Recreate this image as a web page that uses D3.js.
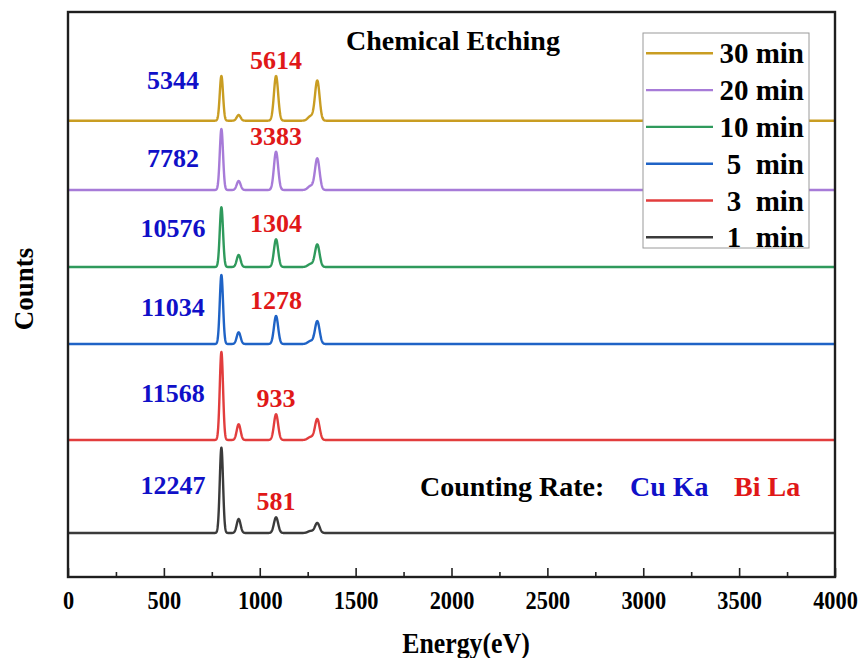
<!DOCTYPE html>
<html>
<head>
<meta charset="utf-8">
<script src="https://cdn.jsdelivr.net/npm/d3@7"></script>
<style>
  html, body { margin: 0; padding: 0; background: #fff; }
  svg { display: block; }
  svg text { font-family: "Liberation Serif", "Times New Roman", serif !important; font-weight: bold; }
</style>
</head>
<body>
<svg id="chart" width="861" height="658"></svg>
<script>
// ---- data ----
const seriesNames = ["1  min", "3  min", "5  min", "10 min", "20 min", "30 min"];
const seriesColors = ["#3b3b3b", "#e23d3d", "#1f63c6", "#2f9a5c", "#a77bd8", "#c99d22"];
// vertical offset of each spectrum (stacked plot, arbitrary counts)
const offsets = [440, 1370, 2330, 3100, 3870, 4563];
// peak centres (eV) and widths (eV)
const peakEnergies = [800, 890, 1085, 1265, 1300];
const peakWidths   = [8.5, 10, 11, 14, 12];
// peak amplitudes per series, same order as peakEnergies
const peakAmps = [
  [853, 140, 157, 20, 100],
  [880, 157, 257, 30, 210],
  [690, 117, 280, 30, 228],
  [597, 120, 277, 30, 225],
  [610,  90, 383, 40, 315],
  [447,  57, 447, 45, 400]
];
// counting rates
const cuKa = [12247, 11568, 11034, 10576, 7782, 5344];
const biLa = [581, 933, 1278, 1304, 3383, 5614];
const xTicks = [0, 500, 1000, 1500, 2000, 2500, 3000, 3500, 4000];
const xMinorTicks = [250, 750, 1250, 1750, 2250, 2750, 3250, 3750];

// ---- layout ----
const W = 861, H = 658;
const m = { left: 68, right: 26, top: 12, bottom: 81 };
const svg = d3.select("#chart");

const x = d3.scaleLinear().domain([0, 4000]).range([m.left, W - m.right]);
const y = d3.scaleLinear().domain([0, 5650]).range([H - m.bottom, m.top]);

// spectrum = baseline + sum of gaussian peaks
function spectrum(i) {
  const pts = [];
  for (let e = 0; e <= 4000; e += 1) {
    let v = offsets[i];
    peakEnergies.forEach((c, k) => {
      const s = peakWidths[k];
      v += peakAmps[i][k] * Math.exp(-0.5 * ((e - c) / s) ** 2);
    });
    pts.push([e, v]);
  }
  return pts;
}

const line = d3.line().x(d => x(d[0])).y(d => y(d[1]));

const plot = svg.append("g");
seriesNames.forEach((name, i) => {
  plot.append("path")
    .datum(spectrum(i))
    .attr("d", line)
    .attr("fill", "none")
    .attr("stroke", seriesColors[i])
    .attr("stroke-width", 2.4)
    .attr("stroke-linejoin", "round");
});

// counting-rate labels
const cuLift = [39, 37.7, 28, 30.3, 23.3, 31.7];
seriesNames.forEach((name, i) => {
  svg.append("text")
    .attr("x", x(547))
    .attr("y", y(offsets[i]) - cuLift[i])
    .attr("text-anchor", "middle")
    .attr("font-size", 26)
    .attr("fill", "#1010c8")
    .text(cuKa[i]);
  svg.append("text")
    .attr("x", x(1085))
    .attr("y", y(offsets[i] + peakAmps[i][2]) - 7)
    .attr("text-anchor", "middle")
    .attr("font-size", 26)
    .attr("fill", "#e01818")
    .text(biLa[i]);
});

// axes
const xAxis = d3.axisBottom(x).tickValues(xTicks).tickSizeInner(-9).tickSizeOuter(0).tickPadding(0)
  .tickFormat(d3.format("d"));
const gx = svg.append("g").attr("transform", `translate(0,${H - m.bottom})`).call(xAxis);
gx.select(".domain").remove();
gx.selectAll(".tick line").attr("stroke", "#222").attr("stroke-width", 1.6);
gx.selectAll(".tick text")
  .attr("y", 0).attr("dy", 0)
  .attr("transform", "translate(0,32) scale(0.86,1)")
  .attr("font-size", 26)
  .attr("fill", "#000");

const xMinor = d3.axisBottom(x).tickValues(xMinorTicks).tickSizeInner(-5).tickSizeOuter(0).tickFormat("");
const gxm = svg.append("g").attr("transform", `translate(0,${H - m.bottom})`).call(xMinor);
gxm.select(".domain").remove();
gxm.selectAll(".tick line").attr("stroke", "#222").attr("stroke-width", 1.6);

// frame
svg.append("rect")
  .attr("x", m.left).attr("y", m.top)
  .attr("width", W - m.left - m.right).attr("height", H - m.top - m.bottom)
  .attr("fill", "none").attr("stroke", "#1e1e1e").attr("stroke-width", 2.4);

// axis titles
svg.append("text")
  .attr("transform", `translate(466,653) scale(0.86,1)`)
  .attr("text-anchor", "middle")
  .attr("font-size", 30)
  .text("Energy(eV)");
svg.append("text")
  .attr("transform", `translate(33,289) rotate(-90)`)
  .attr("text-anchor", "middle")
  .attr("font-size", 27)
  .text("Counts");

// annotations
svg.append("text")
  .attr("x", 453).attr("y", 50)
  .attr("text-anchor", "middle")
  .attr("font-size", 28)
  .text("Chemical Etching");
const cr = svg.append("text").attr("x", 420).attr("y", 496).attr("font-size", 28);
cr.append("tspan").attr("fill", "#000").text("Counting Rate:");
cr.append("tspan").attr("x", 630).attr("fill", "#1010c8").text("Cu Ka");
cr.append("tspan").attr("x", 734).attr("fill", "#e01818").text("Bi La");

// legend
const lg = svg.append("g");
lg.append("rect")
  .attr("x", 643).attr("y", 33).attr("width", 166).attr("height", 215)
  .attr("fill", "#fff").attr("stroke", "#9a9a9a").attr("stroke-width", 1);
const legendOrder = d3.range(seriesNames.length).reverse();
legendOrder.forEach((si, row) => {
  const cy = 53.3 + row * 36.8;
  lg.append("line")
    .attr("x1", 646).attr("x2", 713).attr("y1", cy).attr("y2", cy)
    .attr("stroke", seriesColors[si]).attr("stroke-width", 2.4);
  lg.append("text")
    .attr("x", 804).attr("y", cy + 10)
    .attr("text-anchor", "end")
    .attr("font-size", 29)
    .style("white-space", "pre")
    .text(seriesNames[si]);
});
</script>
</body>
</html>
